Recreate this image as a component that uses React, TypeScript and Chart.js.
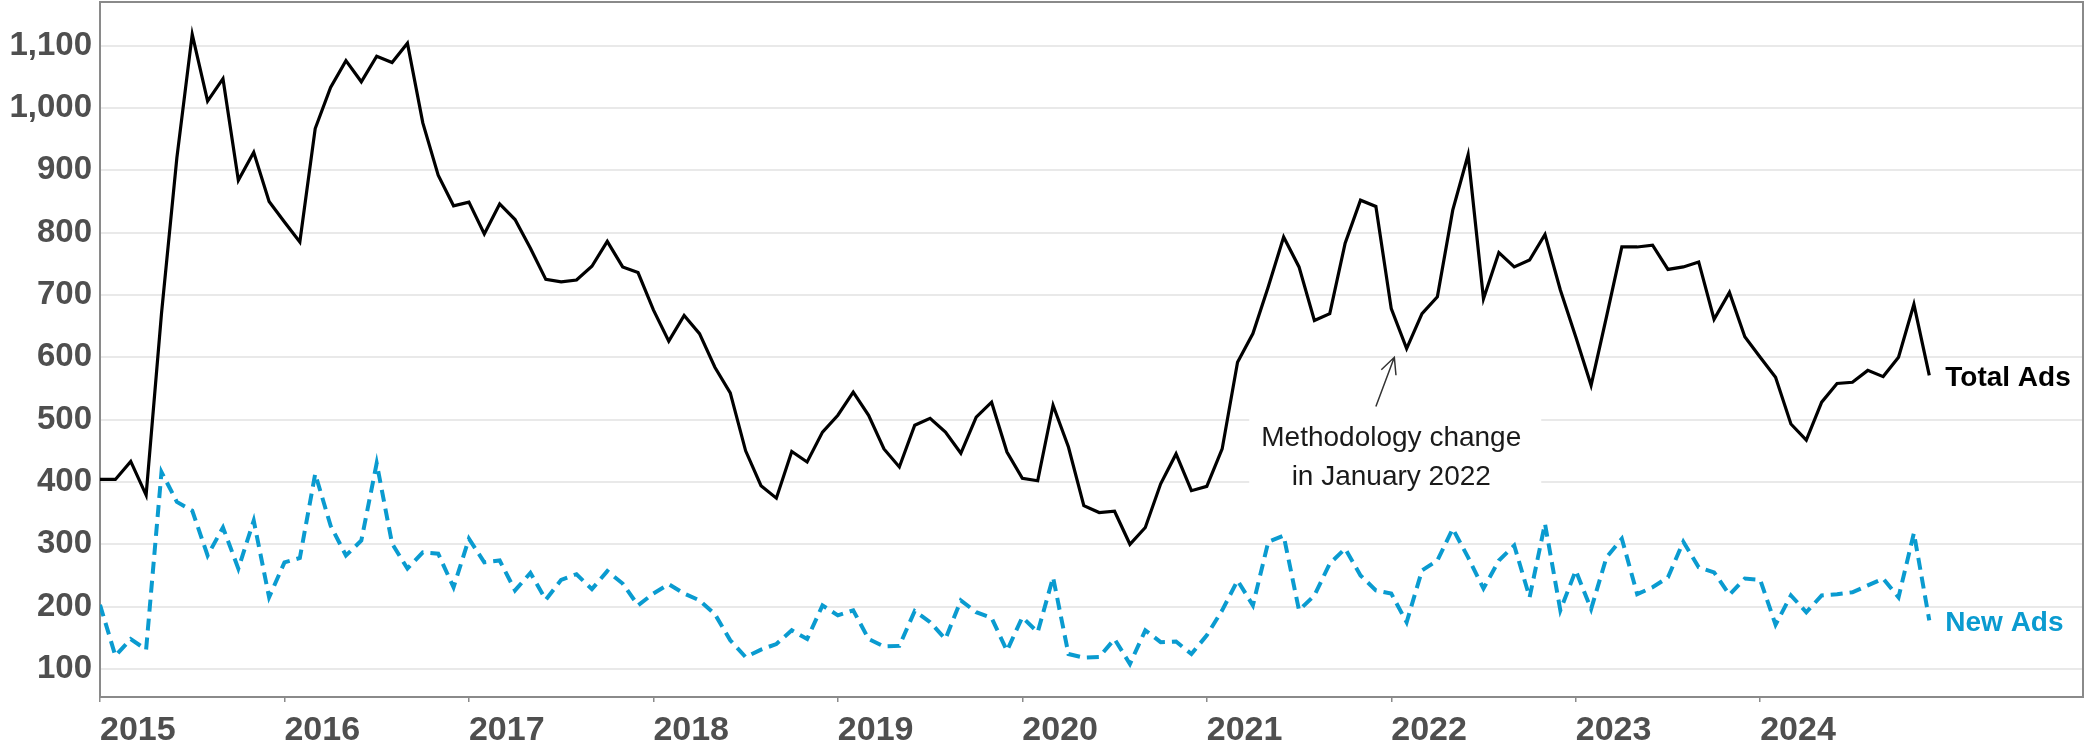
import React, { useEffect, useRef } from 'react';
import { Chart, registerables } from 'chart.js';

Chart.register(...registerables);

// Monthly series, January 2015 – December 2024
const yearLabels = ['2015', '2016', '2017', '2018', '2019', '2020', '2021', '2022', '2023', '2024'];
const yTickValues = [100, 200, 300, 400, 500, 600, 700, 800, 900, 1000, 1100];

const totalAds = [
  404, 404, 433, 379, 670, 920, 1118, 1011, 1047, 884, 929, 850,
  817, 785, 967, 1033, 1076, 1042, 1083, 1073, 1104, 976, 892, 843,
  849, 798, 846, 821, 775, 725, 721, 724, 746, 786, 745, 736,
  676, 626, 667, 638, 584, 543, 450, 394, 374, 449, 432, 480,
  507, 544, 507, 453, 424, 491, 502, 480, 446, 504, 528, 448,
  406, 402, 523, 456, 362, 351, 353, 300, 327, 397, 445, 386,
  393, 453, 592, 638, 713, 793, 745, 659, 670, 783, 852, 842,
  678, 614, 670, 697, 836, 925, 694, 768, 745, 756, 797, 708,
  633, 555, 665, 777, 777, 780, 741, 745, 753, 661, 704, 633,
  600, 568, 493, 467, 528, 558, 560, 579, 569, 600, 685, 571,
];

const newAds = [
  203, 121, 148, 131, 416, 368, 354, 282, 327, 261, 338, 215,
  271, 278, 413, 330, 282, 306, 430, 301, 261, 287, 285, 231,
  309, 271, 274, 226, 254, 211, 243, 252, 228, 257, 237, 202,
  221, 236, 221, 210, 188, 146, 119, 131, 140, 162, 148, 202,
  186, 194, 148, 136, 137, 193, 175, 148, 210, 191, 182, 129,
  183, 159, 247, 124, 118, 119, 148, 108, 162, 143, 144, 124,
  154, 194, 242, 202, 304, 314, 194, 218, 269, 293, 250, 226,
  221, 175, 258, 274, 325, 279, 229, 274, 298, 215, 333, 194,
  258, 196, 279, 309, 220, 231, 247, 304, 263, 255, 219, 245,
  243, 171, 218, 191, 218, 220, 223, 234, 245, 215, 318, 178,
];

const annotationLines = ['Methodology change', 'in January 2022'];
const annotationMonth = 84; // January 2022
const annotationLineValues = [470, 407];
const arrowFrom = { month: 83, value: 521 };
const arrowTo = { month: 84.2, value: 600 };

const FONT = '"Liberation Sans", Arial, Helvetica, sans-serif';
const TOTAL_COLOR = '#000000';
const NEW_COLOR = '#0A9BD0';
const AXIS_TEXT = '#4f4f4f';
const FRAME = '#8a8a8a';

export default function App() {
  const ref = useRef<HTMLCanvasElement>(null);

  useEffect(() => {
    const canvas = ref.current;
    if (!canvas) return;

    const framePlugin = {
      id: 'frame',
      beforeDatasetsDraw(chart: any) {
        const { ctx, chartArea: a, scales } = chart;
        ctx.save();
        const cx = scales.x.getPixelForValue(annotationMonth);
        const y1 = scales.y.getPixelForValue(annotationLineValues[0]);
        const y2 = scales.y.getPixelForValue(annotationLineValues[1]);
        ctx.fillStyle = '#ffffff';
        ctx.fillRect(cx - 142, y1 - 30, 292, y2 - y1 + 58);
        ctx.strokeStyle = FRAME;
        ctx.lineWidth = 2;
        ctx.strokeRect(a.left, a.top, a.right - a.left, a.bottom - a.top);
        ctx.restore();
      },
    };

    const labelsPlugin = {
      id: 'labels',
      afterDatasetsDraw(chart: any) {
        const { ctx, scales } = chart;
        ctx.save();
        chart.data.datasets.forEach((ds: any, di: number) => {
          const meta = chart.getDatasetMeta(di);
          const pt = meta.data[meta.data.length - 1];
          ctx.font = `bold 28px ${FONT}`;
          ctx.fillStyle = ds.borderColor;
          ctx.textAlign = 'left';
          ctx.textBaseline = 'middle';
          ctx.fillText(ds.label, pt.x + 16, pt.y + 3);
        });
        const cx = scales.x.getPixelForValue(annotationMonth);
        ctx.font = `28px ${FONT}`;
        ctx.fillStyle = '#1a1a1a';
        ctx.textAlign = 'center';
        ctx.textBaseline = 'middle';
        annotationLines.forEach((t, k) => {
          ctx.fillText(t, cx, scales.y.getPixelForValue(annotationLineValues[k]));
        });
        const x0 = scales.x.getPixelForValue(arrowFrom.month);
        const y0 = scales.y.getPixelForValue(arrowFrom.value);
        const x1 = scales.x.getPixelForValue(arrowTo.month);
        const y1 = scales.y.getPixelForValue(arrowTo.value);
        const ang = Math.atan2(y1 - y0, x1 - x0);
        const hl = 18;
        ctx.strokeStyle = '#333333';
        ctx.lineWidth = 1.5;
        ctx.beginPath();
        ctx.moveTo(x0, y0);
        ctx.lineTo(x1, y1);
        ctx.moveTo(x1 - hl * Math.cos(ang - 0.45), y1 - hl * Math.sin(ang - 0.45));
        ctx.lineTo(x1, y1);
        ctx.lineTo(x1 - hl * Math.cos(ang + 0.45), y1 - hl * Math.sin(ang + 0.45));
        ctx.stroke();
        ctx.restore();
      },
    };

    const chart = new Chart(canvas, {
      type: 'line',
      data: {
        datasets: [
          {
            label: 'Total Ads',
            data: totalAds.map((v, i) => ({ x: i, y: v })),
            borderColor: TOTAL_COLOR,
            borderWidth: 3.2,
            pointRadius: 0,
            tension: 0,
            fill: false,
          },
          {
            label: 'New Ads',
            data: newAds.map((v, i) => ({ x: i, y: v })),
            borderColor: NEW_COLOR,
            borderWidth: 4,
            borderDash: [12, 7],
            pointRadius: 0,
            tension: 0,
            fill: false,
          },
        ],
      },
      options: {
        responsive: false,
        animation: false,
        devicePixelRatio: 1,
        layout: { padding: { top: 2, right: 4, left: 0, bottom: 0 } },
        plugins: {
          legend: { display: false },
          tooltip: { enabled: false },
        },
        scales: {
          x: {
            type: 'linear',
            min: 0,
            max: 129,
            afterBuildTicks: (axis: any) => {
              axis.ticks = yearLabels.map((_, k) => ({ value: k * 12 }));
            },
            afterFit: (axis: any) => {
              axis.height = 49;
              axis.paddingLeft = 0;
              axis.paddingRight = 0;
            },
            ticks: {
              autoSkip: false,
              maxRotation: 0,
              align: 'start',
              padding: 8,
              color: AXIS_TEXT,
              font: { family: FONT, size: 34, weight: 'bold' },
              callback: (v: any) => yearLabels[Math.round(Number(v) / 12)] ?? '',
            },
            grid: {
              drawOnChartArea: false,
              drawTicks: true,
              tickLength: 5,
              color: FRAME,
              lineWidth: 1.5,
            },
            border: { display: false },
          },
          y: {
            type: 'linear',
            min: 55,
            max: 1170,
            afterBuildTicks: (axis: any) => {
              axis.ticks = yTickValues.map((v) => ({ value: v }));
            },
            afterFit: (axis: any) => {
              axis.width = 100;
              axis.paddingTop = 0;
              axis.paddingBottom = 0;
            },
            ticks: {
              padding: 8,
              color: AXIS_TEXT,
              font: { family: FONT, size: 33, weight: 'bold' },
              callback: (v: any) => Number(v).toLocaleString('en-US'),
            },
            grid: { color: '#e9e9e9', lineWidth: 2, drawTicks: false },
            border: { display: false },
          },
        },
      },
      plugins: [framePlugin, labelsPlugin],
    } as any);

    return () => chart.destroy();
  }, []);

  return (
    <div style={{ position: 'absolute', left: 0, top: 0, width: 2087, height: 746, background: '#fff' }}>
      <canvas ref={ref} width={2087} height={746} style={{ width: 2087, height: 746, display: 'block' }} />
    </div>
  );
}
